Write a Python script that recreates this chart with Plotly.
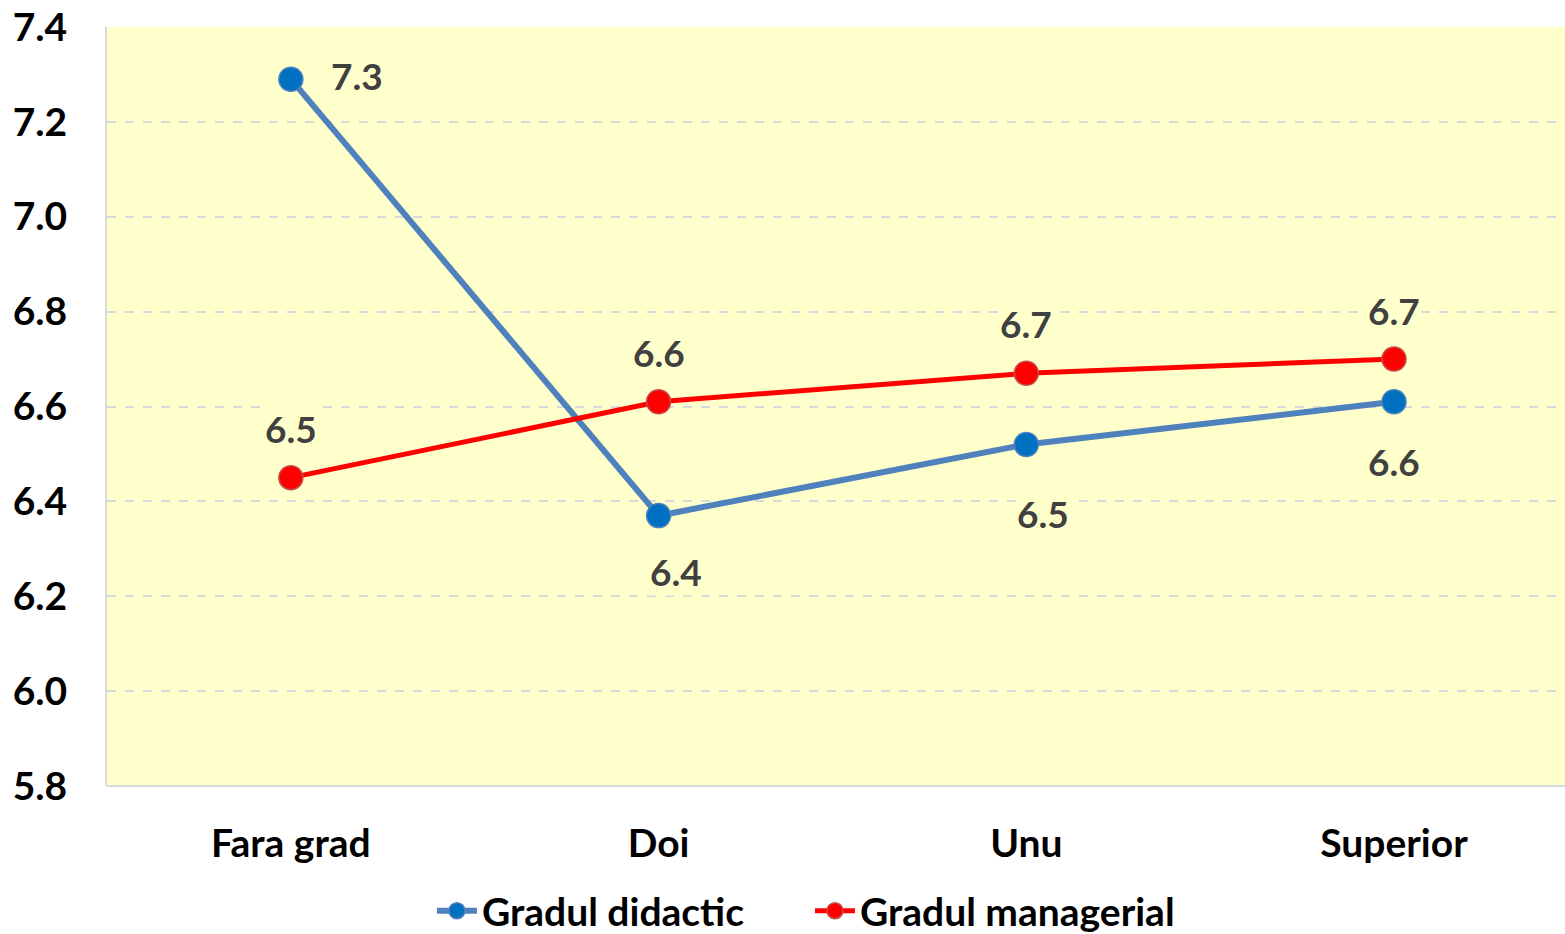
import plotly.graph_objects as go

categories = ["Fara grad", "Doi", "Unu", "Superior"]
didactic = [7.29, 6.37, 6.52, 6.61]
managerial = [6.45, 6.61, 6.67, 6.70]
y_ticks = [5.8, 6.0, 6.2, 6.4, 6.6, 6.8, 7.0, 7.2, 7.4]

FONT = "Lato"
BG = "#FFFFCC"
SIZE = 39

# label placement (pixel shifts) for each point
didactic_shift = [(66, 4), (17, -56), (17, -69), (0, -60)]
managerial_shift = [(0, 49), (0, 49), (0, 50), (0, 49)]

fig = go.Figure()
fig.add_trace(
    go.Scatter(
        x=categories,
        y=didactic,
        mode="lines+markers",
        name="Gradul didactic",
        line=dict(color="#4F81BD", width=6),
        marker=dict(size=24, color="#0070C0", line=dict(color="#4F81BD", width=1.5)),
    )
)
fig.add_trace(
    go.Scatter(
        x=categories,
        y=managerial,
        mode="lines+markers",
        name="Gradul managerial",
        line=dict(color="#FF0000", width=5),
        marker=dict(size=24, color="#FF0000", line=dict(color="#C0504D", width=1.5)),
    )
)

for values, shifts in [(didactic, didactic_shift), (managerial, managerial_shift)]:
    for cat, v, (dx, dy) in zip(categories, values, shifts):
        fig.add_annotation(
            x=cat,
            y=v,
            text=f"{v:.1f}",
            showarrow=False,
            xshift=dx,
            yshift=dy,
            bgcolor=BG,
            font=dict(family=FONT, size=37, color="#404040", weight="bold"),
        )

fig.update_layout(
    width=1565,
    height=934,
    margin=dict(l=107, r=0, t=27, b=148),
    paper_bgcolor="white",
    plot_bgcolor=BG,
    font=dict(family=FONT, size=SIZE, color="black", weight="bold"),
    showlegend=True,
    legend=dict(
        orientation="h",
        xref="container",
        yref="container",
        x=0.276,
        xanchor="left",
        y=0.059,
        yanchor="top",
        font=dict(family=FONT, size=SIZE, color="black", weight="bold"),
        itemwidth=40,
        entrywidth=323,
        bgcolor="rgba(0,0,0,0)",
    ),
    xaxis=dict(
        type="category",
        range=[-0.5, 3.465],
        showgrid=False,
        showline=False,
        zeroline=False,
        ticks="",
        ticklabelstandoff=31,
        tickfont=dict(family=FONT, size=SIZE, color="black", weight="bold"),
    ),
    yaxis=dict(
        range=[5.8, 7.4],
        tickvals=y_ticks,
        tickformat=".1f",
        showgrid=True,
        gridcolor="#D9D9D9",
        gridwidth=1.5,
        griddash="dash",
        showline=True,
        linecolor="#D9D9D9",
        linewidth=2,
        zeroline=False,
        ticks="",
        ticklabelstandoff=30,
        tickfont=dict(family=FONT, size=SIZE, color="black", weight="bold"),
    ),
)
# bottom axis line
fig.add_shape(
    type="line", xref="paper", yref="paper", x0=0, x1=1, y0=0, y1=0,
    line=dict(color="#D9D9D9", width=2),
)

# drop the default 8px body margin so the figure fills the window exactly
fig.write_html(
    "out.html",
    config={"displayModeBar": False},
    post_script="document.body.style.margin='0';",
)
